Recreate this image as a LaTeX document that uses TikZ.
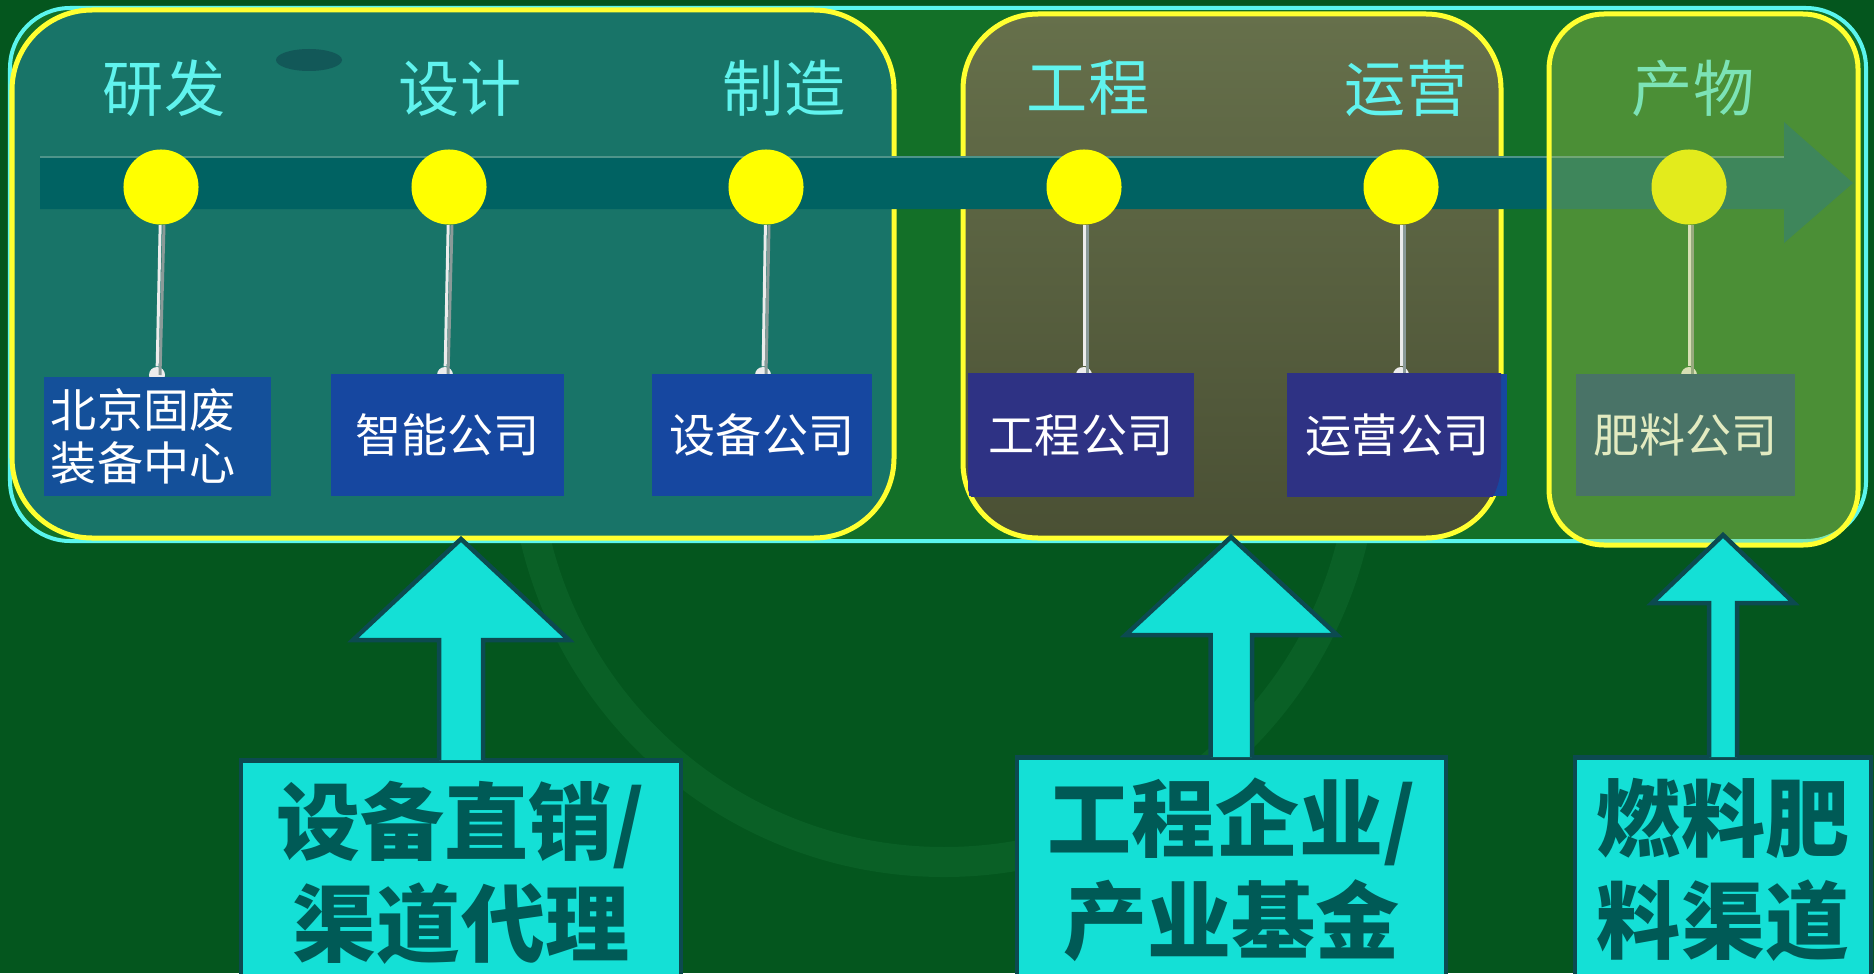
\documentclass[tikz,border=0pt]{standalone}
\usepackage{fontspec}
\setmainfont{Noto Sans CJK SC}
\usetikzlibrary{calc}
\definecolor{bgdark}{HTML}{04561E}
\definecolor{ringgreen}{HTML}{0A6026}
\definecolor{framefill}{HTML}{137028}
\definecolor{framecyan}{HTML}{5AF5EE}
\definecolor{grpline}{HTML}{FFFF30}
\definecolor{grp1fill}{HTML}{187468}
\definecolor{grp2top}{HTML}{66704B}
\definecolor{grp2bot}{HTML}{4A5034}
\definecolor{grp3tint}{RGB}{178,200,80}
\definecolor{blob}{HTML}{125858}
\definecolor{barteal}{HTML}{006262}
\definecolor{barhi}{HTML}{4E948A}
\definecolor{ballyellow}{HTML}{FFFF00}
\definecolor{stagecyan}{HTML}{60F3EE}
\definecolor{stemwhite}{HTML}{ECECEC}
\definecolor{stemshade}{HTML}{8A9A98}
\definecolor{boxblue}{HTML}{1647A0}
\definecolor{boxblueA}{HTML}{14509A}
\definecolor{boxindigo}{HTML}{2E3284}
\definecolor{boxfaded}{HTML}{114675}
\definecolor{chanfill}{HTML}{14E0D6}
\definecolor{chanline}{HTML}{0C4A50}
\definecolor{chantext}{HTML}{005A56}
\begin{document}
\begin{tikzpicture}[x=0.01cm,y=-0.01cm,
    grp/.style={draw=grpline, line width=0.05cm},
    stage/.style={text=stagecyan, inner sep=0, font=\fontsize{17.4pt}{20pt}\selectfont},
    ball/.style={circle, fill=ballyellow, inner sep=0, minimum size=0.75cm},
    pin/.style={circle, fill=stemwhite, inner sep=0, minimum size=0.16cm},
    stem/.style={draw=stemwhite, line width=0.03cm},
    compbox/.style={fill=boxblue, inner sep=0, minimum height=1.22cm, text=white,
        font=\fontsize{13.1pt}{15pt}\selectfont},
    chanbox/.style={draw=chanline, fill=chanfill, line width=0.045cm, inner sep=0,
        minimum height=2.25cm, anchor=north, text=chantext, align=center,
        font=\bfseries\fontsize{23.9pt}{29pt}\selectfont},
    uparrow/.style={draw=chanline, fill=chanfill, line width=0.045cm, line join=miter}]
\useasboundingbox (0,0) rectangle (1874,973);
\clip (0,0) rectangle (1874,973);
\fill[bgdark] (0,0) rectangle (1874,973);
\draw[ringgreen, line width=0.3cm] (944,442) circle[radius=420];

\draw[fill=framefill, draw=framecyan, line width=0.04cm, rounded corners=0.6cm] (10,8) rectangle (1866,541);
\draw[grp, fill=grp1fill, rounded corners=0.8cm] (12,10) rectangle (894,538);
\draw[grp, top color=grp2top, bottom color=grp2bot, rounded corners=0.75cm] (963,14) rectangle (1501,538);
\fill[blob] (309,60) ellipse[x radius=33, y radius=11];

% timeline
\fill[barteal] (40,157) -- (1784,157) -- (1784,122) -- (1853,183) -- (1784,243) -- (1784,209) -- (40,209) -- cycle;
\draw[barhi, line width=0.02cm] (40,157) -- (1784,157);

\node[stage] (s1) at (164,88) {研发};
\node[stage] (s2) at (460,88) {设计};
\node[stage] (s3) at (784,88) {制造};
\node[stage] (s4) at (1088,88) {工程};
\node[stage] (s5) at (1406,88) {运营};
\node[stage] (s6) at (1693,88) {产物};

\foreach \i/\x/\px in {1/161/157, 2/449/445, 3/766/763, 4/1084/1084, 5/1401/1401, 6/1689/1689} {
    \node[ball] (b\i) at (\x,187) {};
    \node[pin] (p\i) at (\px,375) {};
    \draw[stem, draw=stemshade] ($(b\i.south)+(3,0)$) -- ($(p\i.center)+(3,0)$);
    \draw[stem] (b\i) -- (p\i);
}

\node[compbox, fill=boxblueA, text width=2.13cm, inner xsep=0.07cm, align=left,
    minimum height=1.19cm] (c1) at (157.5,436.5) {北京固废\\装备中心};
\node[compbox, minimum width=2.33cm] (c2) at (447.5,435) {智能公司};
\node[compbox, minimum width=2.20cm] (c3) at (762,435) {设备公司};
\node[compbox, minimum width=2.24cm] (c4) at (1081,435) {};
\node[compbox, minimum width=2.19cm] (c5) at (1397.5,435) {};
\begin{scope}
    \clip[rounded corners=0.75cm] (963,14) rectangle (1501,538);
    \fill[boxindigo] (c4.south west) rectangle (c4.north east);
    \fill[boxindigo] (c5.south west) rectangle (c5.north east);
\end{scope}
\node[compbox, fill=none] at (c4) {工程公司};
\node[compbox, fill=none] at (c5) {运营公司};
\node[compbox, fill=boxfaded, minimum width=2.19cm] (c6) at (1685.5,435) {肥料公司};

\fill[grp3tint, fill opacity=0.353, rounded corners=0.55cm] (1549,14) rectangle (1858,545);
\draw[grp, rounded corners=0.55cm] (1549,14) rectangle (1858,545);

% channels
\node[chanbox, minimum width=4.40cm] (d1) at (461,758) {设备直销/\\渠道代理};
\node[chanbox, minimum width=4.29cm] (d2) at (1231.5,755) {工程企业/\\产业基金};
\node[chanbox, minimum width=2.96cm] (d3) at (1723,755) {燃料肥\\料渠道};
\coordinate (t1) at (461,539);
\coordinate (t2) at (1231,537);
\coordinate (t3) at (1723,535);
\draw[uparrow] ($(d1.north)+(-22,2)$) -- ++(0,-120) -- ++(-86,0) -- (t1) -- ++(108,101) -- ++(-86,0) -- ++(0,120);
\draw[uparrow] ($(d2.north)+(-21,2)$) -- ++(0,-122) -- ++(-85,0) -- (t2) -- ++(106,98) -- ++(-85,0) -- ++(0,122);
\draw[uparrow] ($(d3.north)+(-14,2)$) -- ++(0,-154) -- ++(-57,0) -- (t3) -- ++(71,68) -- ++(-57,0) -- ++(0,154);
\end{tikzpicture}
\end{document}
